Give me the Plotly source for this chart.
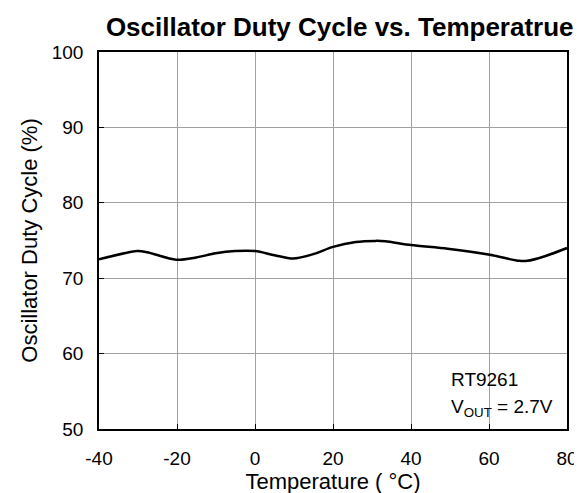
import plotly.graph_objects as go

temperature = [-40, -30.2, -27.7, -20.2, -15.1, -10.1, -5.1, 0, 5, 9.8, 15, 20, 25.8, 30.9, 33.4, 40, 49.4, 60.2, 67.8, 69.8, 74.5, 80]
duty_cycle = [72.5, 73.6, 73.45, 72.45, 72.75, 73.3, 73.6, 73.6, 73.05, 72.6, 73.2, 74.15, 74.8, 74.95, 74.9, 74.4, 73.9, 73.1, 72.3, 72.3, 72.95, 74.0]

x_ticks = [-40, -20, 0, 20, 40, 60, 80]
x_tick_labels = ["-40", "-20", "0", "20", "40", "60", "80"]
y_ticks = [50, 60, 70, 80, 90, 100]
y_tick_labels = ["50", "60", "70", "80", "90", "100"]

font = "Liberation Sans, Arial, sans-serif"

fig = go.Figure()
fig.add_trace(go.Scatter(
    x=temperature, y=duty_cycle, mode="lines",
    line=dict(color="black", width=2.5, shape="spline", smoothing=0.8),
    showlegend=False, hoverinfo="skip"))

axis_common = dict(
    showline=True, linecolor="black", linewidth=1.5, mirror=True,
    showgrid=True, gridcolor="#a0a0a0", gridwidth=1,
    ticks="inside", ticklen=5, tickcolor="black", tickwidth=1,
    zeroline=False, tickfont=dict(family=font, size=19, color="black"),
)

fig.update_xaxes(range=[-40, 80], tickvals=x_ticks, ticktext=x_tick_labels, ticklabelstandoff=11,
                 title=dict(text="Temperature ( °C)", font=dict(family=font, size=22, color="black"), standoff=2),
                 **axis_common)
fig.update_yaxes(range=[50, 100], tickvals=y_ticks, ticktext=y_tick_labels, ticklabelstandoff=10,
                 title=dict(text="Oscillator Duty Cycle (%)", font=dict(family=font, size=22, color="black"), standoff=8),
                 **axis_common)

fig.add_annotation(x=0.747, y=0.13, xref="paper", yref="paper", xanchor="left", yanchor="middle",
                   text="RT9261", showarrow=False, font=dict(family=font, size=19, color="black"))
fig.add_annotation(x=0.747, y=0.056, xref="paper", yref="paper", xanchor="left", yanchor="middle",
                   text="V<sub>OUT</sub> = 2.7V", showarrow=False, font=dict(family=font, size=19, color="black"))

fig.update_layout(
    width=582, height=493,
    margin=dict(l=91, r=13, t=44, b=72),
    paper_bgcolor="white", plot_bgcolor="white",
    title=dict(text="<b>Oscillator Duty Cycle vs. Temperatrue</b>", x=0.57, xanchor="center",
               y=0.962, yanchor="middle", font=dict(family=font, size=26, color="black")),
)

fig.write_html("out.html")
